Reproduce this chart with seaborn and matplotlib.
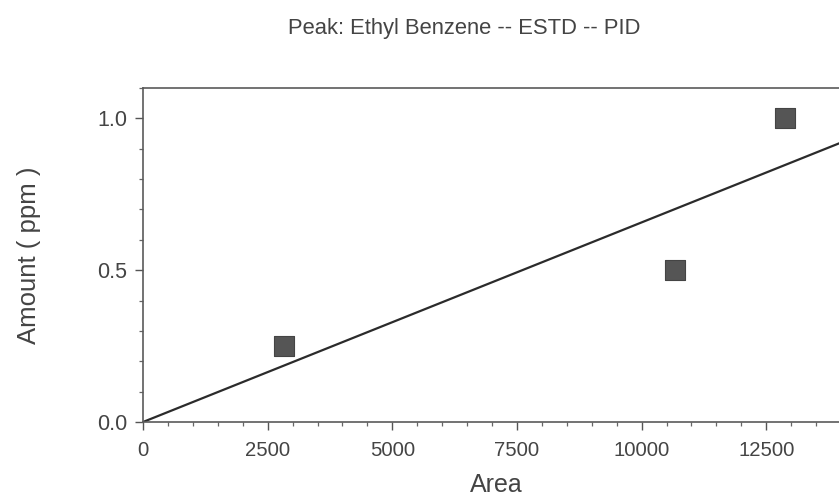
import numpy as np
import pandas as pd
import matplotlib
matplotlib.use("Agg")
import matplotlib.pyplot as plt
import seaborn as sns
from matplotlib.ticker import MultipleLocator

# Data
area = [2830, 10680, 12880]
amount = [0.25, 0.5, 1.0]

title = "Peak: Ethyl Benzene -- ESTD -- PID"
xlabel = "Area"
ylabel = "Amount ( ppm )"

sns.set_theme(style="white")
plt.rcParams['font.family'] = ['Liberation Sans', 'DejaVu Sans']

df = pd.DataFrame({"Area": area, "Amount": amount})

W, H = 839, 497
fig = plt.figure(figsize=(W / 100, H / 100), dpi=100)
x0, y0, x1, y1 = 143, 88, 841, 422
ax = fig.add_axes([x0 / W, 1 - y1 / H, (x1 - x0) / W, (y1 - y0) / H])

# calibration line through origin (least squares fit)
xa = np.array(area, dtype=float)
ya = np.array(amount, dtype=float)
slope = (xa * ya).sum() / (xa * xa).sum()
xl = np.array([0, 14000.0])
sns.lineplot(x=xl, y=slope * xl, ax=ax, color="#2b2b2b", lw=1.6)

sns.scatterplot(data=df, x="Area", y="Amount", ax=ax, marker="s", s=200,
                color="#555555", edgecolor="#444444", linewidth=0.8, zorder=3)

ax.set_xlim(0, 14000)
ax.set_ylim(0, 1.1)
ax.xaxis.set_major_locator(MultipleLocator(2500))
ax.xaxis.set_minor_locator(MultipleLocator(500))
ax.yaxis.set_major_locator(MultipleLocator(0.5))
ax.yaxis.set_minor_locator(MultipleLocator(0.1))
ax.set_yticks([0.0, 0.5, 1.0])
ax.set_yticklabels(["0.0", "0.5", "1.0"])

for s in ["left", "bottom", "top"]:
    ax.spines[s].set_color("#5a5a5a")
    ax.spines[s].set_linewidth(1.2)
ax.spines["right"].set_visible(False)

ax.tick_params(which="major", direction="out", length=5.8, width=1, color="#555555",
               labelcolor="#444444", left=True, bottom=True)
ax.tick_params(axis="x", which="major", labelsize=14.6, pad=8)
ax.tick_params(axis="y", which="major", labelsize=15.5, pad=5.5)
ax.tick_params(which="minor", direction="out", length=2.9, width=0.9, color="#666666",
               left=True, bottom=True)

ax.set_xlabel("")
ax.set_ylabel("")
fig.text(496 / W, 1 - 492 / H, xlabel, ha="center", va="baseline",
         fontsize=18, color="#444444")
fig.text(29 / W, 1 - 255 / H, ylabel, ha="center", va="center", rotation=90,
         fontsize=18.5, color="#444444")

fig.text(464 / W, 1 - 34 / H, title, ha="center", va="baseline", fontsize=15.8, color="#444444")

fig.savefig("out.png", dpi=100)
